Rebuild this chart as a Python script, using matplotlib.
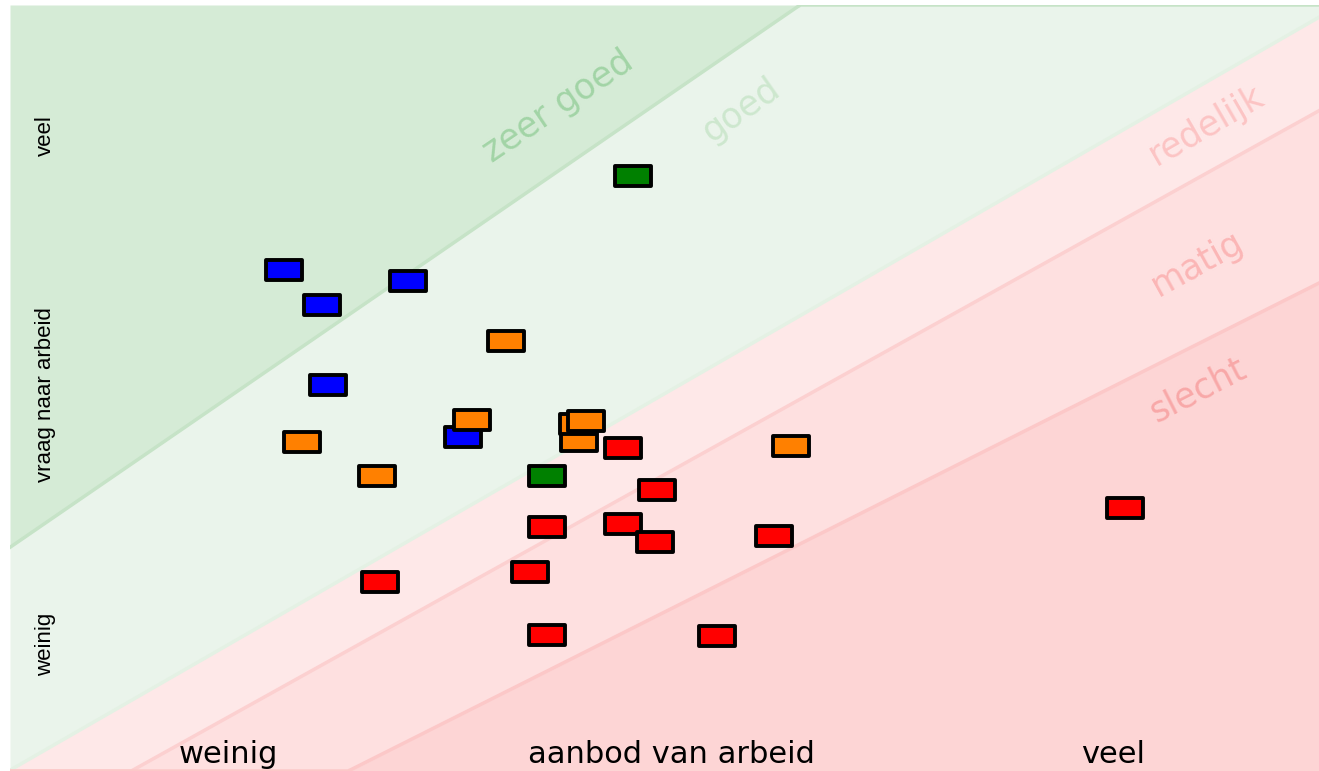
import numpy as np
import matplotlib.pyplot as plt
from matplotlib.path import Path

# --- data (0-100 scale on both axes: aanbod -> x, vraag -> y) ---
blue_x = [20.9, 30.4, 23.8, 24.3, 34.6]
blue_y = [65.4, 64.0, 60.8, 50.4, 43.6]
green_x = [47.6, 41.0]
green_y = [77.7, 38.5]
orange_x = [37.9, 22.3, 28.0, 43.5, 43.4, 35.3, 44.0, 59.7]
orange_y = [56.1, 43.0, 38.5, 43.1, 45.3, 45.8, 45.7, 42.4]
red_x = [46.8, 49.4, 41.0, 46.8, 49.3, 58.4, 28.3, 39.7, 41.0, 54.0, 85.2]
red_y = [42.2, 36.7, 31.9, 32.3, 29.9, 30.7, 24.7, 26.0, 17.8, 17.6, 34.3]

# band boundaries y = a + b*x, from top band down
band_a = [29.2, 0.1, -8.8, -22.2]
band_b = [1.173, 0.983, 0.950, 0.859]
band_names = ["zeer goed", "goed", "redelijk", "matig", "slecht"]

fill_colors = ["#d5ebd6", "#eaf4eb", "#fee8e8", "#fee0e0", "#fdd5d5"]
line_colors = ["#c6e3c7", "#e4f1e4", "#fcd0d0", "#fcc8c8"]
label_colors = ["#a2d4a6", "#cde7ce", "#fcc4c4", "#fbb6b6", "#f8a8a8"]
label_pos = [(41.9, 86.7, 34), (55.8, 86.3, 35), (91.4, 84.3, 30), (90.7, 66.2, 29), (90.7, 49.7, 27)]

fig = plt.figure(figsize=(13.19, 7.71), dpi=100)
ax = fig.add_axes([10 / 1319, 0, 1309 / 1319, 766 / 771])
ax.set_xlim(0, 100)
ax.set_ylim(0, 100)
ax.axis("off")

xs = np.linspace(0, 100, 400)
bounds = [np.full_like(xs, 100.0)]
for a, b in zip(band_a, band_b):
    bounds.append(np.clip(a + b * xs, 0, 100))
bounds.append(np.zeros_like(xs))
for i in range(5):
    ax.fill_between(xs, bounds[i + 1], bounds[i], color=fill_colors[i], lw=0, zorder=1)
for i in range(4):
    ax.plot(xs, np.clip(band_a[i] + band_b[i] * xs, 0, 100), color=line_colors[i], lw=2.5, zorder=2)

for name, (lx, ly, rot), c in zip(band_names, label_pos, label_colors):
    ax.text(lx, ly, name, color=c, fontsize=25, rotation=rot, ha="center", va="center",
            rotation_mode="anchor", zorder=3)

# rectangle marker
rect = Path([(-0.89, -0.5), (0.89, -0.5), (0.89, 0.5), (-0.89, 0.5), (-0.89, -0.5)],
            [Path.MOVETO, Path.LINETO, Path.LINETO, Path.LINETO, Path.CLOSEPOLY])
ms = 25.5
for xv, yv, c in [(blue_x, blue_y, "#0000ff"), (green_x, green_y, "#008000"),
                  (orange_x, orange_y, "#ff8000"), (red_x, red_y, "#ff0000")]:
    ax.plot(xv, yv, ls="none", marker=rect, ms=ms, mfc=c, mec="black", mew=2.8, zorder=5)

# axis labels
ax.text(16.7, 2.2, "weinig", fontsize=22, ha="center", va="center", zorder=6)
ax.text(50.5, 2.2, "aanbod van arbeid", fontsize=22, ha="center", va="center", zorder=6)
ax.text(84.3, 2.2, "veel", fontsize=22, ha="center", va="center", zorder=6)
ax.text(2.7, 83.0, "veel", fontsize=16, family=["Liberation Sans", "DejaVu Sans"],
        rotation=90, ha="center", va="center", zorder=6)
ax.text(2.7, 49.1, "vraag naar arbeid", fontsize=16, family=["Liberation Sans", "DejaVu Sans"],
        rotation=90, ha="center", va="center", zorder=6)
ax.text(2.7, 16.5, "weinig", fontsize=16, family=["Liberation Sans", "DejaVu Sans"],
        rotation=90, ha="center", va="center", zorder=6)

fig.savefig("out.png", dpi=100)
